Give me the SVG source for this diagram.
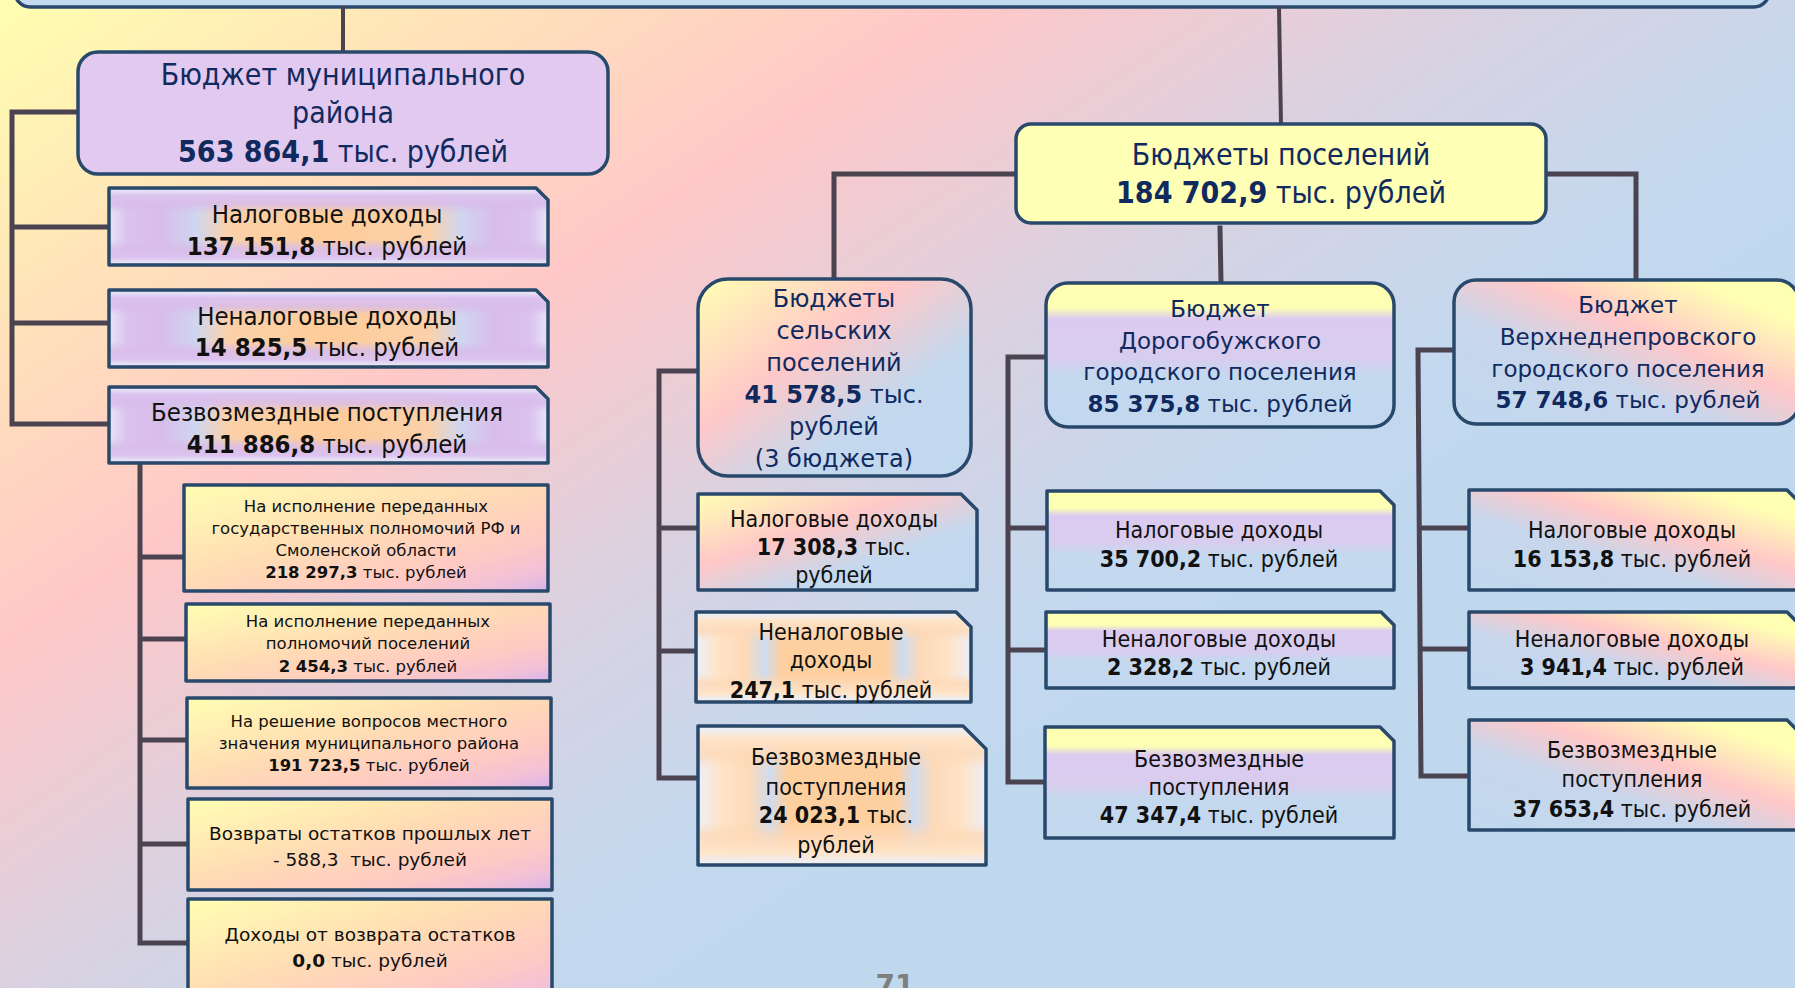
<svg xmlns="http://www.w3.org/2000/svg" width="1795" height="988" viewBox="0 0 1795 988">
<defs>
<linearGradient id="bg" gradientUnits="userSpaceOnUse" x1="0" y1="0" x2="667" y2="998">
<stop offset="0" stop-color="#ffffb0"/><stop offset="0.2" stop-color="#ffe6b8"/><stop offset="0.45" stop-color="#ffc8c8"/><stop offset="0.7" stop-color="#d8d2e2"/><stop offset="0.9" stop-color="#c4d8ee"/><stop offset="1" stop-color="#c0d8ee"/>
</linearGradient>
<linearGradient id="gY" x1="0" y1="0" x2="1" y2="1">
<stop offset="0" stop-color="#ffffb3"/><stop offset="0.45" stop-color="#ffdcb4"/><stop offset="0.75" stop-color="#ffc9c4"/><stop offset="0.9" stop-color="#f0c0d8"/><stop offset="1" stop-color="#d6b4ec"/>
</linearGradient>
<linearGradient id="gS" x1="0" y1="0" x2="1" y2="1">
<stop offset="0" stop-color="#ffffb3"/><stop offset="0.38" stop-color="#ffc8c8"/><stop offset="0.66" stop-color="#c4d8ee"/><stop offset="1" stop-color="#c0d8ee"/>
</linearGradient>
<linearGradient id="gD" x1="0" y1="0" x2="0" y2="1">
<stop offset="0" stop-color="#ffffb3"/><stop offset="0.17" stop-color="#ffffb3"/><stop offset="0.25" stop-color="#dccaf0"/><stop offset="0.52" stop-color="#d8cdee"/><stop offset="0.64" stop-color="#c4d8ee"/><stop offset="1" stop-color="#c2d8ee"/>
</linearGradient>
<linearGradient id="gV" x1="0" y1="1" x2="1" y2="0">
<stop offset="0" stop-color="#c0d8ee"/><stop offset="0.38" stop-color="#c8d6ec"/><stop offset="0.6" stop-color="#ffc8c8"/><stop offset="0.85" stop-color="#ffffb3"/><stop offset="1" stop-color="#ffffb3"/>
</linearGradient>
<linearGradient id="gP" x1="0" y1="0" x2="1" y2="0">
<stop offset="0" stop-color="#e6e6f7"/><stop offset="0.04" stop-color="#dcc2ee"/><stop offset="0.12" stop-color="#d8bdea"/><stop offset="0.2" stop-color="#cfd6f0"/><stop offset="0.27" stop-color="#fbd1aa"/><stop offset="0.5" stop-color="#ffcc99"/><stop offset="0.73" stop-color="#fbd1aa"/><stop offset="0.8" stop-color="#cfd6f0"/><stop offset="0.88" stop-color="#d8bdea"/><stop offset="0.96" stop-color="#dcc2ee"/><stop offset="1" stop-color="#e6e6f7"/>
</linearGradient>
<linearGradient id="gPv" x1="0" y1="0" x2="0" y2="1">
<stop offset="0" stop-color="#e6e6f7" stop-opacity="1"/><stop offset="0.08" stop-color="#dcc2ee" stop-opacity="1"/><stop offset="0.2" stop-color="#d8bdea" stop-opacity="0.85"/><stop offset="0.32" stop-color="#d8bdea" stop-opacity="0"/><stop offset="0.68" stop-color="#d8bdea" stop-opacity="0"/><stop offset="0.8" stop-color="#d8bdea" stop-opacity="0.85"/><stop offset="0.92" stop-color="#dcc2ee" stop-opacity="1"/><stop offset="1" stop-color="#e6e6f7" stop-opacity="1"/>
</linearGradient>
<linearGradient id="gO" x1="0" y1="0" x2="1" y2="0">
<stop offset="0" stop-color="#eceff8"/><stop offset="0.08" stop-color="#ffe4c8"/><stop offset="0.18" stop-color="#fdd9b8"/><stop offset="0.25" stop-color="#cfdcf0"/><stop offset="0.31" stop-color="#ffd09f"/><stop offset="0.69" stop-color="#ffd09f"/><stop offset="0.75" stop-color="#cfdcf0"/><stop offset="0.82" stop-color="#fdd9b8"/><stop offset="0.92" stop-color="#ffe4c8"/><stop offset="1" stop-color="#eceff8"/>
</linearGradient>
<linearGradient id="gOv" x1="0" y1="0" x2="0" y2="1">
<stop offset="0" stop-color="#eceff8" stop-opacity="1"/><stop offset="0.08" stop-color="#ffe4c8" stop-opacity="1"/><stop offset="0.2" stop-color="#fdd9b8" stop-opacity="0.8"/><stop offset="0.3" stop-color="#fdd9b8" stop-opacity="0"/><stop offset="0.7" stop-color="#fdd9b8" stop-opacity="0"/><stop offset="0.8" stop-color="#fdd9b8" stop-opacity="0.8"/><stop offset="0.92" stop-color="#ffe4c8" stop-opacity="1"/><stop offset="1" stop-color="#eceff8" stop-opacity="1"/>
</linearGradient>
<style>
.box{stroke:#28496b;stroke-width:3.5;stroke-linejoin:round}
.ov{stroke:none}
.con{fill:none;stroke:#4b4350;stroke-width:5;stroke-linecap:square}
text{font-family:"DejaVu Sans","Liberation Sans",sans-serif;text-anchor:middle}
.c{font-family:"DejaVu Sans Condensed","DejaVu Sans","Liberation Sans",sans-serif;font-stretch:condensed}
.hd{fill:#102a60}
.tx{fill:#111111}
.b{font-weight:bold}
</style>
</defs>
<rect x="0" y="0" width="1795" height="988" fill="url(#bg)"/>

<g id="top-box">
<rect class="box" x="15" y="-50" width="1754" height="57" rx="15" fill="#c4daf0"/>
</g>

<g id="connectors">
<path class="con" style="stroke-width:4" d="M343 8 V52"/>
<path class="con" style="stroke-width:4" d="M1279 8 L1281 124"/>
<path class="con" d="M78 112 H12 V424 H109 M12 227 H109 M12 323 H109"/>
<path class="con" d="M140 464 V943 H188 M140 557 H184 M140 639 H186 M144 740 H187 M140 844 H188"/>
<path class="con" d="M1016 174 H834 V279"/>
<path class="con" d="M1220 228 L1221 282"/>
<path class="con" d="M1546 174 H1636 V280"/>
<path class="con" d="M698 371 H659 V778 H698 M659 528 H698 M659 651 H696"/>
<path class="con" d="M1046 357 H1008 V782 H1045 M1008 528 H1047 M1008 650 H1046"/>
<path class="con" d="M1454 350 H1418 L1421 776 H1469 M1420 528 H1469 M1422 649 H1469"/>
</g>

<g id="municipal">
<rect class="box" x="78" y="52" width="530" height="122" rx="20" fill="#e2c9ef"/>
<text class="hd c" font-size="30" x="343" y="85">Бюджет муниципального</text>
<text class="hd c" font-size="30" x="343" y="123">района</text>
<text class="hd c" font-size="30" x="343" y="162"><tspan class="b">563 864,1</tspan> тыс. рублей</text>
</g>

<g id="mun-tax">
<path class="box" d="M109 188 H536 L548 200 V265 H109 Z" fill="url(#gP)"/>
<path class="ov" d="M111 190 H535 L546 201 V263 H111 Z" fill="url(#gPv)"/>
<text class="tx c" font-size="25.5" x="327" y="223">Налоговые доходы</text>
<text class="tx c" font-size="25.5" x="327" y="255"><tspan class="b">137 151,8</tspan> тыс. рублей</text>
</g>

<g id="mun-nontax">
<path class="box" d="M109 290 H536 L548 302 V367 H109 Z" fill="url(#gP)"/>
<path class="ov" d="M111 292 H535 L546 303 V365 H111 Z" fill="url(#gPv)"/>
<text class="tx c" font-size="25.5" x="327" y="325">Неналоговые доходы</text>
<text class="tx c" font-size="25.5" x="327" y="356"><tspan class="b">14 825,5</tspan> тыс. рублей</text>
</g>

<g id="mun-free">
<path class="box" d="M109 387 H536 L548 399 V463 H109 Z" fill="url(#gP)"/>
<path class="ov" d="M111 389 H535 L546 400 V461 H111 Z" fill="url(#gPv)"/>
<text class="tx c" font-size="25.5" x="327" y="421">Безвозмездные поступления</text>
<text class="tx c" font-size="25.5" x="327" y="453"><tspan class="b">411 886,8</tspan> тыс. рублей</text>
</g>

<g id="mun-free-a">
<rect class="box" x="184" y="485" width="364" height="106" fill="url(#gY)"/>
<text class="tx" font-size="16.5" x="366" y="512">На исполнение переданных</text>
<text class="tx" font-size="16.5" x="366" y="534">государственных полномочий РФ и</text>
<text class="tx" font-size="16.5" x="366" y="556">Смоленской области</text>
<text class="tx" font-size="16.5" x="366" y="578"><tspan class="b">218 297,3</tspan> тыс. рублей</text>
</g>

<g id="mun-free-b">
<rect class="box" x="186" y="604" width="364" height="77" fill="url(#gY)"/>
<text class="tx" font-size="16.5" x="368" y="627">На исполнение переданных</text>
<text class="tx" font-size="16.5" x="368" y="649">полномочий поселений</text>
<text class="tx" font-size="16.5" x="368" y="672"><tspan class="b">2 454,3</tspan> тыс. рублей</text>
</g>

<g id="mun-free-c">
<rect class="box" x="187" y="698" width="364" height="90" fill="url(#gY)"/>
<text class="tx" font-size="16.5" x="369" y="727">На решение вопросов местного</text>
<text class="tx" font-size="16.5" x="369" y="749">значения муниципального района</text>
<text class="tx" font-size="16.5" x="369" y="771"><tspan class="b">191 723,5</tspan> тыс. рублей</text>
</g>

<g id="mun-free-d">
<rect class="box" x="188" y="799" width="364" height="91" fill="url(#gY)"/>
<text class="tx" font-size="18.5" x="370" y="840">Возвраты остатков прошлых лет</text>
<text class="tx" font-size="18.5" x="370" y="866" xml:space="preserve">- 588,3  тыс. рублей</text>
</g>

<g id="mun-free-e">
<rect class="box" x="188" y="899" width="364" height="110" fill="url(#gY)"/>
<text class="tx" font-size="18.5" x="370" y="941">Доходы от возврата остатков</text>
<text class="tx" font-size="18.5" x="370" y="967"><tspan class="b">0,0</tspan> тыс. рублей</text>
</g>

<g id="settlements">
<rect class="box" x="1016" y="124" width="530" height="99" rx="15" fill="#ffffb5"/>
<text class="hd c" font-size="30" x="1281" y="165">Бюджеты поселений</text>
<text class="hd c" font-size="30" x="1281" y="203"><tspan class="b">184 702,9</tspan> тыс. рублей</text>
</g>

<g id="rural">
<rect class="box" x="698" y="279" width="273" height="197" rx="30" fill="url(#gS)"/>
<text class="hd" font-size="24" x="834" y="307">Бюджеты</text>
<text class="hd" font-size="24" x="834" y="339">сельских</text>
<text class="hd" font-size="24" x="834" y="371">поселений</text>
<text class="hd" font-size="24" x="834" y="403"><tspan class="b">41 578,5</tspan> тыс.</text>
<text class="hd" font-size="24" x="834" y="435">рублей</text>
<text class="hd" font-size="24" x="834" y="467">(3 бюджета)</text>
</g>

<g id="rural-tax">
<path class="box" d="M698 494 H961 L977 510 V590 H698 Z" fill="url(#gS)"/>
<text class="tx c" font-size="23" x="834" y="527">Налоговые доходы</text>
<text class="tx c" font-size="23" x="834" y="555"><tspan class="b">17 308,3</tspan> тыс.</text>
<text class="tx c" font-size="23" x="834" y="583">рублей</text>
</g>

<g id="rural-nontax">
<path class="box" d="M696 612 H956 L971 627 V702 H696 Z" fill="url(#gO)"/>
<path class="ov" d="M698 614 H955 L969 628 V700 H698 Z" fill="url(#gOv)"/>
<text class="tx c" font-size="23" x="831" y="640">Неналоговые</text>
<text class="tx c" font-size="23" x="831" y="668">доходы</text>
<text class="tx c" font-size="23" x="831" y="698"><tspan class="b">247,1</tspan> тыс. рублей</text>
</g>

<g id="rural-free">
<path class="box" d="M698 726 H963 L986 749 V865 H698 Z" fill="url(#gO)"/>
<path class="ov" d="M700 728 H962 L984 750 V863 H700 Z" fill="url(#gOv)"/>
<text class="tx c" font-size="23" x="836" y="765">Безвозмездные</text>
<text class="tx c" font-size="23" x="836" y="795">поступления</text>
<text class="tx c" font-size="23" x="836" y="823"><tspan class="b">24 023,1</tspan> тыс.</text>
<text class="tx c" font-size="23" x="836" y="853">рублей</text>
</g>

<g id="dorogobuzh">
<rect class="box" x="1046" y="283" width="348" height="144" rx="22" fill="url(#gD)"/>
<text class="hd" font-size="23" x="1220" y="317">Бюджет</text>
<text class="hd" font-size="23" x="1220" y="349">Дорогобужского</text>
<text class="hd" font-size="23" x="1220" y="380">городского поселения</text>
<text class="hd" font-size="23" x="1220" y="412"><tspan class="b">85 375,8</tspan> тыс. рублей</text>
</g>

<g id="dorogobuzh-tax">
<path class="box" d="M1047 491 H1380 L1394 505 V590 H1047 Z" fill="url(#gD)"/>
<text class="tx c" font-size="23" x="1219" y="538">Налоговые доходы</text>
<text class="tx c" font-size="23" x="1219" y="567"><tspan class="b">35 700,2</tspan> тыс. рублей</text>
</g>

<g id="dorogobuzh-nontax">
<path class="box" d="M1046 612 H1381 L1394 625 V688 H1046 Z" fill="url(#gD)"/>
<text class="tx c" font-size="23" x="1219" y="647">Неналоговые доходы</text>
<text class="tx c" font-size="23" x="1219" y="675"><tspan class="b">2 328,2</tspan> тыс. рублей</text>
</g>

<g id="dorogobuzh-free">
<path class="box" d="M1045 727 H1380 L1394 741 V838 H1045 Z" fill="url(#gD)"/>
<text class="tx c" font-size="23" x="1219" y="767">Безвозмездные</text>
<text class="tx c" font-size="23" x="1219" y="795">поступления</text>
<text class="tx c" font-size="23" x="1219" y="823"><tspan class="b">47 347,4</tspan> тыс. рублей</text>
</g>

<g id="verkhnedneprovsky">
<rect class="box" x="1454" y="280" width="345" height="144" rx="22" fill="url(#gV)"/>
<text class="hd" font-size="23" x="1628" y="313">Бюджет</text>
<text class="hd" font-size="23" x="1628" y="345">Верхнеднепровского</text>
<text class="hd" font-size="23" x="1628" y="377">городского поселения</text>
<text class="hd" font-size="23" x="1628" y="408"><tspan class="b">57 748,6</tspan> тыс. рублей</text>
</g>

<g id="verkh-tax">
<path class="box" d="M1469 490 H1787 L1799 502 V590 H1469 Z" fill="url(#gV)"/>
<text class="tx c" font-size="23" x="1632" y="538">Налоговые доходы</text>
<text class="tx c" font-size="23" x="1632" y="567"><tspan class="b">16 153,8</tspan> тыс. рублей</text>
</g>

<g id="verkh-nontax">
<path class="box" d="M1469 612 H1787 L1799 624 V688 H1469 Z" fill="url(#gV)"/>
<text class="tx c" font-size="23" x="1632" y="647">Неналоговые доходы</text>
<text class="tx c" font-size="23" x="1632" y="675"><tspan class="b">3 941,4</tspan> тыс. рублей</text>
</g>

<g id="verkh-free">
<path class="box" d="M1469 720 H1787 L1799 732 V830 H1469 Z" fill="url(#gV)"/>
<text class="tx c" font-size="23" x="1632" y="758">Безвозмездные</text>
<text class="tx c" font-size="23" x="1632" y="787">поступления</text>
<text class="tx c" font-size="23" x="1632" y="817"><tspan class="b">37 653,4</tspan> тыс. рублей</text>
</g>

<g id="page-number">
<text x="895" y="995" font-size="28" font-weight="bold" fill="#7f7f7f">71</text>
</g>
</svg>
